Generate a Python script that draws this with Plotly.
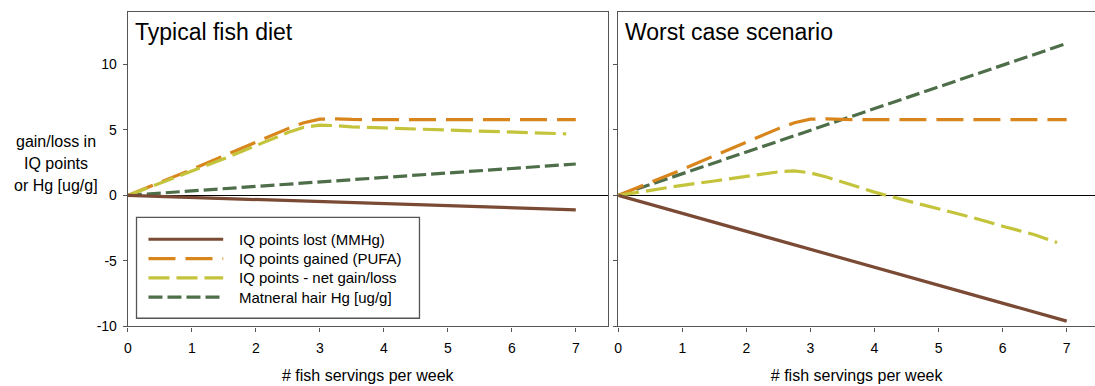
import plotly.graph_objects as go

# ---------------- data ----------------
servings = [0, 1, 2, 3, 4, 5, 6, 7]

typ_lost = [0, -0.16, -0.31, -0.47, -0.63, -0.79, -0.94, -1.1]
typ_hair = [0, 0.34, 0.69, 1.03, 1.37, 1.71, 2.06, 2.4]

pufa_x = [0, 0.5, 1, 1.5, 2, 2.5, 2.75, 3, 3.25, 3.5, 4, 5, 6, 7]
pufa_y = [0, 0.98, 1.98, 3.03, 4.08, 5.1, 5.55, 5.82, 5.85, 5.8, 5.78, 5.78, 5.78, 5.78]

typ_net_x = [0, 0.5, 1, 1.5, 2, 2.5, 2.75, 3, 3.25, 3.5, 4, 5, 6, 6.85]
typ_net_y = [0, 0.92, 1.85, 2.8, 3.8, 4.8, 5.2, 5.36, 5.33, 5.24, 5.15, 5.0, 4.85, 4.7]

worst_lost = [0, -1.37, -2.74, -4.11, -5.49, -6.86, -8.23, -9.6]
worst_hair = [0, 1.66, 3.31, 4.97, 6.63, 8.29, 9.94, 11.6]

worst_net_x = [0, 0.5, 1, 1.5, 2, 2.5, 2.75, 3, 3.25, 3.5, 4, 4.5, 5, 5.5, 6, 6.5, 6.85]
worst_net_y = [0, 0.4, 0.77, 1.1, 1.46, 1.8, 1.88, 1.72, 1.4, 1.0, 0.25, -0.4, -1.0, -1.65, -2.35, -3.0, -3.6]

panel_titles = ["Typical fish diet", "Worst case scenario"]
series_names = ["IQ points lost (MMHg)", "IQ points gained (PUFA)",
                "IQ points - net gain/loss", "Matneral hair Hg [ug/g]"]
y_title_lines = ["gain/loss in", "IQ points", "or Hg [ug/g]"]
x_title = "# fish servings per week"
y_ticks = [-10, -5, 0, 5, 10]
y_tick_labels = ["-10", "-5", "0", "5", "10"]
x_ticks = [0, 1, 2, 3, 4, 5, 6, 7]

# ---------------- styles ----------------
FONT = "Liberation Sans, Arial, sans-serif"
TXT = "#000000"
C_BROWN = "#7a4a35"
C_ORANGE = "#d8861c"
C_YELLOW = "#c4c43c"
C_GREEN = "#4d6e48"
styles = [
    dict(color=C_BROWN, width=3.2, dash="solid"),
    dict(color=C_ORANGE, width=3.2, dash="27px,10px"),
    dict(color=C_YELLOW, width=3.2, dash="21px,7px"),
    dict(color=C_GREEN, width=3.2, dash="14px,5px"),
]

W, H = 1095, 386


def px(x):
    return x / W


def py(y):
    return 1 - y / H


fig = go.Figure()

panels = [
    ("x", "y", [(servings, typ_lost), (pufa_x, pufa_y), (typ_net_x, typ_net_y), (servings, typ_hair)]),
    ("x2", "y2", [(servings, worst_lost), (pufa_x, pufa_y), (worst_net_x, worst_net_y), (servings, worst_hair)]),
]
for xa, ya, series in panels:
    for idx in [3, 1, 2, 0]:
        xs, ys = series[idx]
        fig.add_trace(go.Scatter(x=xs, y=ys, mode="lines", line=styles[idx],
                                 name=series_names[idx], showlegend=False,
                                 xaxis=xa, yaxis=ya, hoverinfo="skip"))

AX = "#555555"
common_x = dict(range=[0, 7.5], tickvals=x_ticks, ticks="outside", ticklen=4, tickcolor=AX,
                showline=True, linecolor=AX, linewidth=1.3, showgrid=False, zeroline=False,
                ticklabelstandoff=5,
                tickfont=dict(family=FONT, size=14, color=TXT),
                title=dict(text=x_title, font=dict(family=FONT, size=16, color=TXT), standoff=14))
common_y = dict(range=[-10, 14], tickvals=y_ticks, ticktext=y_tick_labels, ticks="outside", ticklen=4,
                tickcolor=AX, showline=True, linecolor=AX, linewidth=1.3, showgrid=False,
                zeroline=True, zerolinecolor="#000000", zerolinewidth=1,
                tickfont=dict(family=FONT, size=14, color=TXT))

ybot, ytop = py(333.3), py(12.3)
fig.update_layout(
    width=W, height=H,
    margin=dict(l=0, r=0, t=0, b=0),
    paper_bgcolor="white", plot_bgcolor="white",
    xaxis=dict(domain=[px(124.3), px(606)], mirror=True, anchor="y", **common_x),
    yaxis=dict(domain=[ybot, ytop], mirror=True, anchor="x", ticklabelstandoff=3, **common_y),
    xaxis2=dict(domain=[px(616.5), 1.0], mirror=True, anchor="y2",
                **{**common_x, "range": [0, (W - 616.5) / 64.3]}),
    yaxis2=dict(domain=[ybot, ytop], mirror=False, anchor="x2", showticklabels=False, **common_y),
)

# panel titles
fig.add_annotation(text=panel_titles[0], xref="paper", yref="paper", x=px(129), y=py(33),
                   xanchor="left", yanchor="middle", showarrow=False,
                   font=dict(family=FONT, size=23, color=TXT))
fig.add_annotation(text=panel_titles[1], xref="paper", yref="paper", x=px(621), y=py(33),
                   xanchor="left", yanchor="middle", showarrow=False,
                   font=dict(family=FONT, size=23, color=TXT))

# y axis title (three lines)
for i, t in enumerate(y_title_lines):
    fig.add_annotation(text=t, xref="paper", yref="paper", x=px(52), y=py(144 + 22.5 * i),
                       xanchor="center", yanchor="middle", showarrow=False,
                       font=dict(family=FONT, size=16, color=TXT))

# legend box (drawn manually to match the long line samples)
fig.add_shape(type="rect", xref="paper", yref="paper", x0=px(133), x1=px(417), y0=py(325), y1=py(222),
              line=dict(color=AX, width=1.3), fillcolor="white", layer="above")
for i, name in enumerate(series_names):
    yy = py(244.3 + 19.7 * i)
    fig.add_shape(type="line", xref="paper", yref="paper", x0=px(145), x1=px(220), y0=yy, y1=yy,
                  line=styles[i], layer="above")
    fig.add_annotation(text=name, xref="paper", yref="paper", x=px(234), y=yy,
                       xanchor="left", yanchor="middle", showarrow=False,
                       font=dict(family=FONT, size=15, color=TXT))

fig.write_html("out.html")
